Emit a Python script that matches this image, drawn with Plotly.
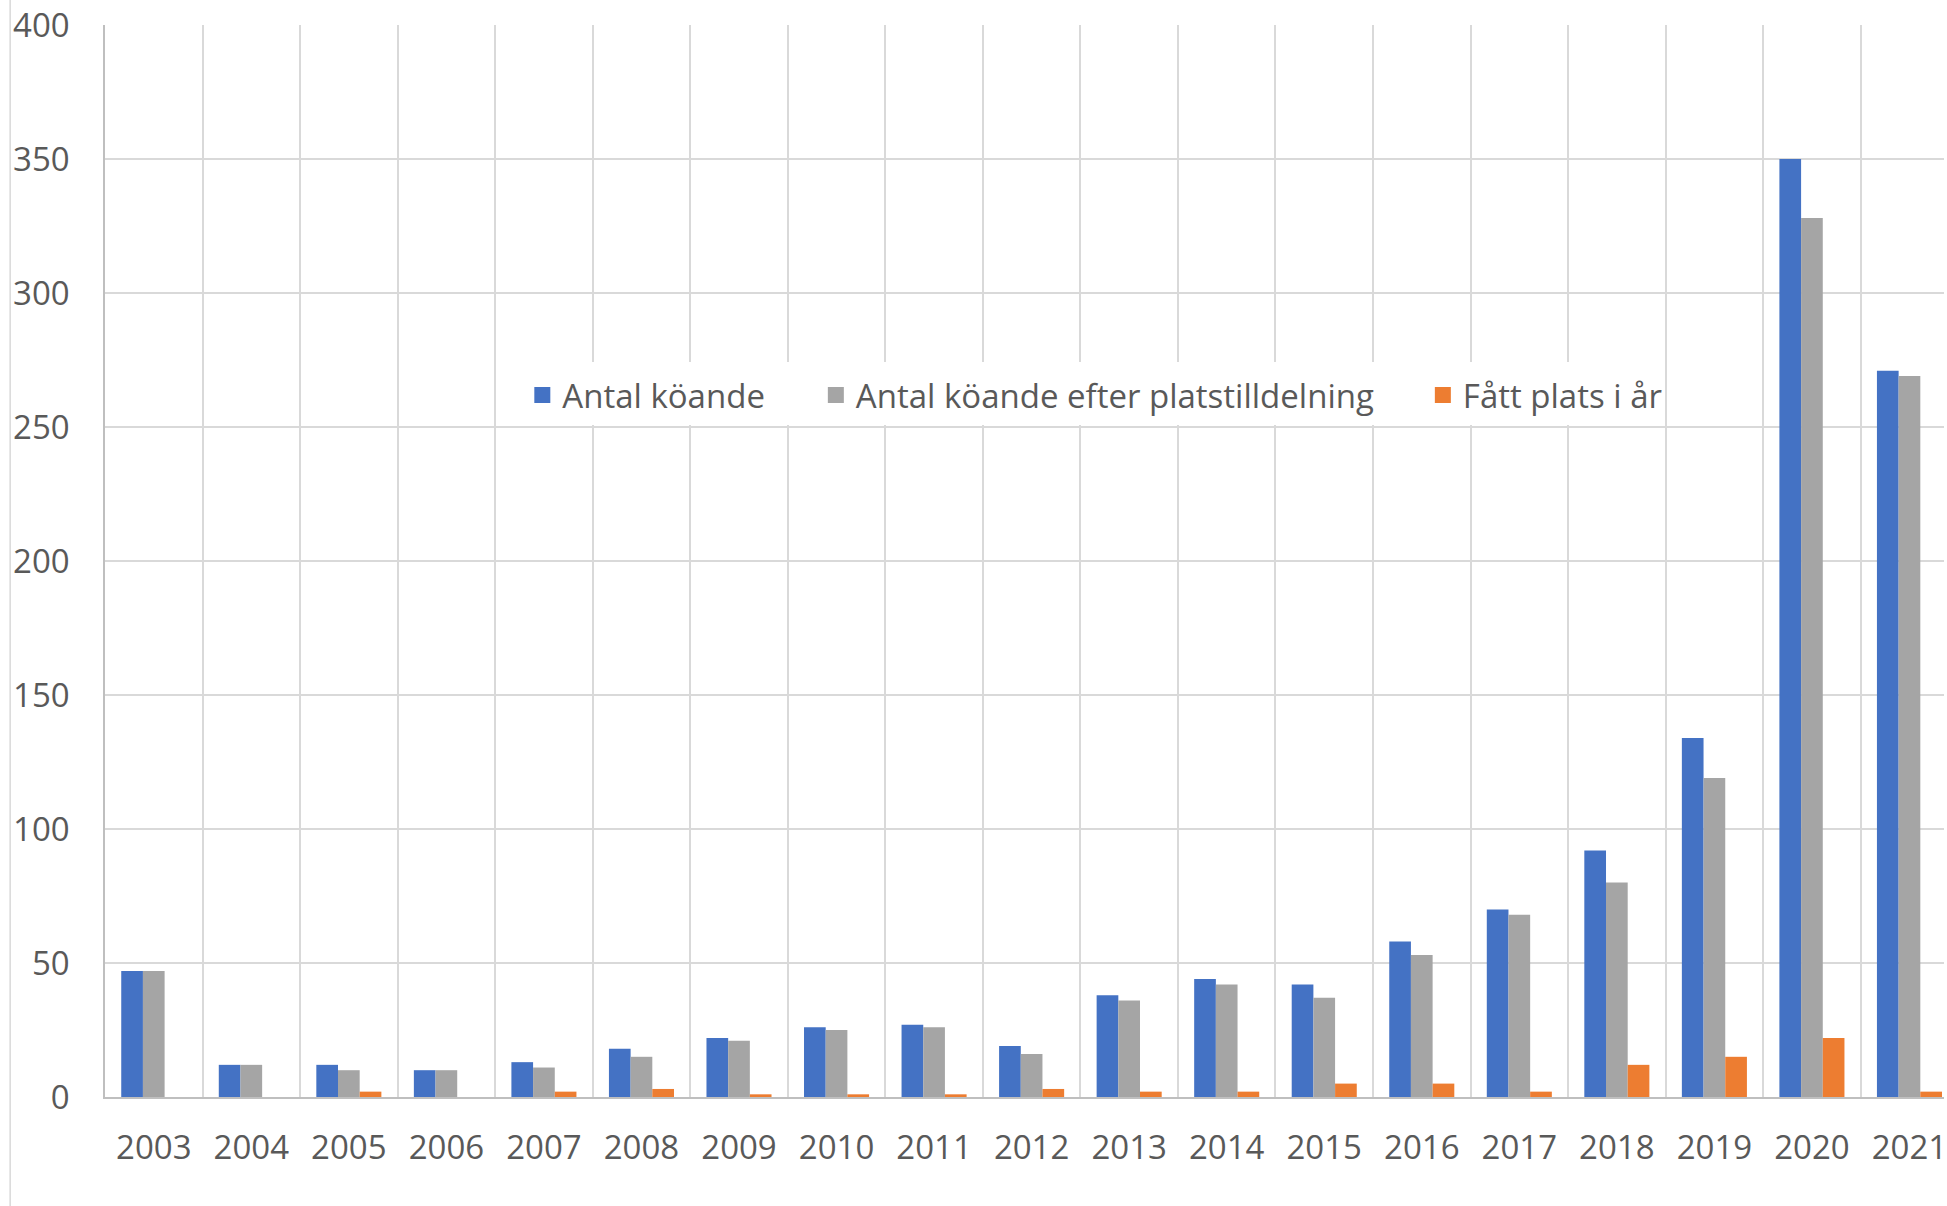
import plotly.graph_objects as go

years = ["2003", "2004", "2005", "2006", "2007", "2008", "2009", "2010", "2011", "2012",
         "2013", "2014", "2015", "2016", "2017", "2018", "2019", "2020", "2021"]
antal_koande = [47, 12, 12, 10, 13, 18, 22, 26, 27, 19, 38, 44, 42, 58, 70, 92, 134, 350, 271]
antal_efter = [47, 12, 10, 10, 11, 15, 21, 25, 26, 16, 36, 42, 37, 53, 68, 80, 119, 328, 269]
fatt_plats = [0, 0, 2, 0, 2, 3, 1, 1, 1, 3, 2, 2, 5, 5, 2, 12, 15, 22, 2]

series_names = ["Antal köande", "Antal köande efter platstilldelning", "Fått plats i år"]
series_colors = ["#4472C4", "#A5A5A5", "#ED7D31"]

FONT = "Open Sans"
FS = 33
TXT = "#595959"
GRID = "#d9d9d9"

W, H = 1947, 1206
ml, mt, mb = 105, 25, 109
pw = W - ml
ph = H - mt - mb


def px_x(p):
    return (p - ml) / pw


def px_y(p):
    return 1 - (p - mt) / ph


legend_ids = ["legend", "legend2", "legend3"]
legend_left_px = [523, 817, 1425]

fig = go.Figure()
for name, vals, col in zip(series_names, [antal_koande, antal_efter, fatt_plats], series_colors):
    fig.add_trace(go.Bar(x=years, y=vals, name=name, showlegend=False,
                         marker=dict(color=col, line=dict(width=0))))

# legend-only entries (bigger square swatches, like the original)
for name, col, lg in zip(series_names, series_colors, legend_ids):
    fig.add_trace(go.Scatter(x=[None], y=[None], mode="markers", name=name, legend=lg,
                             marker=dict(symbol="square", size=16, color=col, line=dict(width=0))))

legend_common = dict(orientation="h", xanchor="left", y=px_y(395), yanchor="middle",
                     bgcolor="rgba(0,0,0,0)", borderwidth=0,
                     font=dict(family=FONT, size=FS, color=TXT))

fig.update_layout(
    width=W, height=H,
    margin=dict(l=ml, r=0, t=mt, b=mb, pad=0),
    paper_bgcolor="white", plot_bgcolor="white",
    barmode="group", bargap=0.333, bargroupgap=0,
    font=dict(family=FONT, size=FS, color=TXT),
    legend=dict(x=px_x(legend_left_px[0]), **legend_common),
    legend2=dict(x=px_x(legend_left_px[1]), **legend_common),
    legend3=dict(x=px_x(legend_left_px[2]), **legend_common),
    xaxis=dict(type="category", range=[-0.5, 18.354], tickson="boundaries",
               showgrid=True, gridcolor=GRID, gridwidth=1.5,
               showline=True, linecolor="#bfbfbf", linewidth=2,
               ticks="", ticklabelstandoff=20, ticklabeloverflow="allow",
               tickfont=dict(family=FONT, size=FS, color=TXT)),
    yaxis=dict(range=[0, 400], dtick=50, showgrid=True, gridcolor=GRID, gridwidth=1.5,
               showline=True, linecolor="#bfbfbf", linewidth=1.5, zeroline=False,
               ticks="", ticklabelstandoff=27,
               tickfont=dict(family=FONT, size=FS, color=TXT)),
    shapes=[
        dict(type="line", xref="paper", yref="paper",
             x0=px_x(10), x1=px_x(10), y0=px_y(H + 5), y1=px_y(-5),
             line=dict(color=GRID, width=1.5)),
        dict(type="rect", xref="paper", yref="paper", layer="above",
             x0=px_x(497), x1=px_x(1664), y0=px_y(425), y1=px_y(362),
             fillcolor="white", line=dict(width=0)),
    ],
    showlegend=True,
)

fig.write_html("out.html", config={"displayModeBar": False},
               post_script="document.body.style.margin='0';document.body.style.overflow='hidden';")
